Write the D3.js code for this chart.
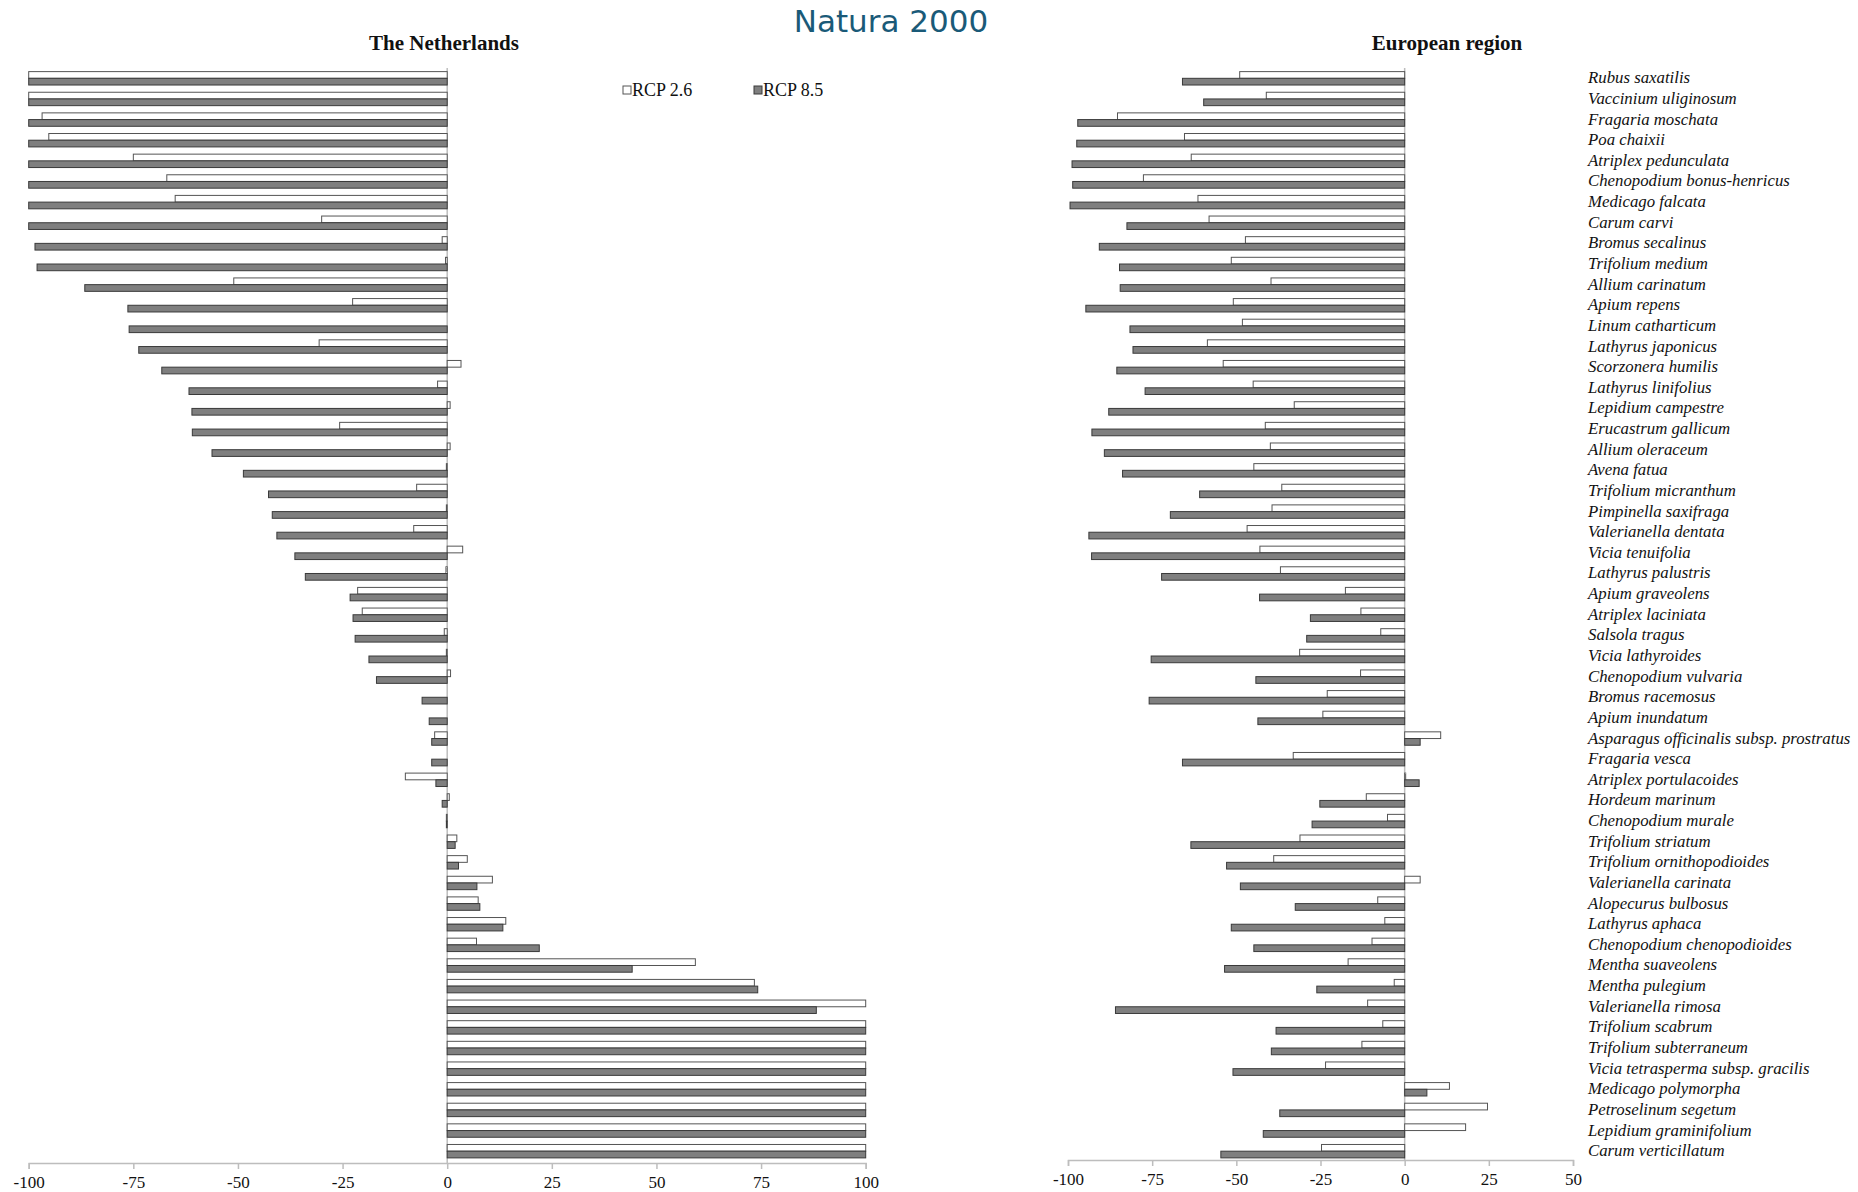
<!DOCTYPE html>
<html>
<head>
<meta charset="utf-8">
<script src="https://cdn.jsdelivr.net/npm/d3@7/dist/d3.min.js"></script>
<style>
  html, body { margin: 0; padding: 0; background: #fff; }
  svg { display: block; }
</style>
</head>
<body>
<svg id="chart" width="1858" height="1192"></svg>
<script>
const categories = [
  "Rubus saxatilis", "Vaccinium uliginosum", "Fragaria moschata", "Poa chaixii",
  "Atriplex pedunculata", "Chenopodium bonus-henricus", "Medicago falcata", "Carum carvi",
  "Bromus secalinus", "Trifolium medium", "Allium carinatum", "Apium repens",
  "Linum catharticum", "Lathyrus japonicus", "Scorzonera humilis", "Lathyrus linifolius",
  "Lepidium campestre", "Erucastrum gallicum", "Allium oleraceum", "Avena fatua",
  "Trifolium micranthum", "Pimpinella saxifraga", "Valerianella dentata", "Vicia tenuifolia",
  "Lathyrus palustris", "Apium graveolens", "Atriplex laciniata", "Salsola tragus",
  "Vicia lathyroides", "Chenopodium vulvaria", "Bromus racemosus", "Apium inundatum",
  "Asparagus officinalis subsp. prostratus", "Fragaria vesca", "Atriplex portulacoides",
  "Hordeum marinum", "Chenopodium murale", "Trifolium striatum", "Trifolium ornithopodioides",
  "Valerianella carinata", "Alopecurus bulbosus", "Lathyrus aphaca", "Chenopodium chenopodioides",
  "Mentha suaveolens", "Mentha pulegium", "Valerianella rimosa", "Trifolium scabrum",
  "Trifolium subterraneum", "Vicia tetrasperma subsp. gracilis", "Medicago polymorpha",
  "Petroselinum segetum", "Lepidium graminifolium", "Carum verticillatum"
];

const seriesNames = ["RCP 2.6", "RCP 8.5"];

// The Netherlands
const nlRcp26 = [-100, -100, -96.8, -95.2, -75, -67, -65, -30, -1.2, -0.4,
  -51, -22.6, 0, -30.6, 3.3, -2.3, 0.7, -25.7, 0.7, -0.2,
  -7.3, -0.2, -8, 3.7, -0.3, -21.4, -20.3, -0.7, -0.2, 0.8,
  0, 0, -3, 0, -10, 0.5, -0.2, 2.3, 4.8, 10.8,
  7.4, 14, 7, 59.3, 73.4, 100, 100, 100, 100, 100,
  100, 100, 100];
const nlRcp85 = [-100, -100, -100, -100, -100, -100, -100, -100, -98.5, -98,
  -86.6, -76.3, -76, -73.7, -68.2, -61.7, -61, -60.9, -56.2, -48.7,
  -42.7, -41.8, -40.7, -36.4, -33.9, -23.2, -22.5, -22, -18.7, -16.9,
  -6, -4.3, -3.7, -3.7, -2.7, -1.2, -0.2, 1.9, 2.7, 7.1,
  7.8, 13.3, 22, 44.2, 74.2, 88.2, 100, 100, 100, 100,
  100, 100, 100];

// European region
const euRcp26 = [-49, -41.1, -85.3, -65.4, -63.4, -77.6, -61.4, -58.1, -47.3, -51.5,
  -39.7, -50.9, -48.2, -58.6, -53.9, -45, -32.8, -41.4, -39.9, -44.8,
  -36.5, -39.4, -46.8, -43, -36.9, -17.6, -13, -7.1, -31.2, -13.1,
  -23, -24.3, 10.7, -33.1, 0.3, -11.4, -5.1, -31.1, -38.9, 4.6,
  -8, -5.9, -9.7, -16.8, -3.1, -11, -6.5, -12.7, -23.5, 13.3,
  24.6, 18.1, -24.7];
const euRcp85 = [-66, -59.7, -97.1, -97.4, -98.8, -98.6, -99.4, -82.5, -90.7, -84.7,
  -84.5, -94.7, -81.6, -80.7, -85.5, -77.1, -87.9, -92.9, -89.2, -83.8,
  -60.9, -69.6, -93.8, -93, -72.2, -43.1, -28, -29.1, -75.3, -44.2,
  -75.9, -43.6, 4.6, -66, 4.3, -25.2, -27.5, -63.5, -52.9, -48.8,
  -32.5, -51.5, -44.8, -53.5, -26.1, -85.9, -38.2, -39.6, -51, 6.6,
  -37.1, -42, -54.6];

const nlTicks = [-100, -75, -50, -25, 0, 25, 50, 75, 100];
const euTicks = [-100, -75, -50, -25, 0, 25, 50];

const mainTitle = "Natura 2000";
const nlTitle = "The Netherlands";
const euTitle = "European region";

const svg = d3.select("#chart");
const serif = "'Liberation Serif', 'Times New Roman', serif";

const y = d3.scaleBand().domain(categories).range([68, 1161.5]).paddingInner(0.35).paddingOuter(0.175);
const ySub = d3.scaleBand().domain(seriesNames).range([0, y.bandwidth()]);
const fills = { "RCP 2.6": "#ffffff", "RCP 8.5": "#7f7f7f" };
const strokes = { "RCP 2.6": "#555555", "RCP 8.5": "#3a3a3a" };

function panel(xScale, s26, s85, ticks, axisY, title, titleX) {
  const g = svg.append("g");
  const x0 = xScale(0);
  g.append("line").attr("x1", x0).attr("x2", x0)
    .attr("y1", y.range()[0]).attr("y2", axisY)
    .attr("stroke", "#bdbdbd").attr("stroke-width", 1.5);
  const rows = categories.map((c, i) => ({ c, v: [s26[i], s85[i]] }));
  rows.forEach(r => {
    seriesNames.forEach((s, k) => {
      const v = r.v[k];
      if (v === 0) return;
      g.append("rect")
        .attr("x", Math.min(xScale(v), x0))
        .attr("width", Math.abs(xScale(v) - x0))
        .attr("y", y(r.c) + ySub(s))
        .attr("height", ySub.bandwidth())
        .attr("fill", fills[s])
        .attr("stroke", strokes[s])
        .attr("stroke-width", 1);
    });
  });
  const ax = g.append("g").attr("transform", `translate(0,${axisY})`)
    .call(d3.axisBottom(xScale).tickValues(ticks).tickSize(6).tickFormat(d => String(d)));
  ax.select(".domain").attr("stroke", "#bdbdbd").attr("stroke-width", 1.5);
  ax.selectAll(".tick line").attr("stroke", "#bdbdbd").attr("stroke-width", 1.5);
  ax.selectAll(".tick text").attr("fill", "#111").attr("font-family", serif).attr("font-size", 17)
    .attr("y", 13).attr("dy", "0.71em");
  svg.append("text").attr("x", titleX)
    .attr("y", 50).attr("text-anchor", "middle")
    .attr("font-family", serif).attr("font-weight", "bold").attr("font-size", 21).attr("fill", "#111")
    .text(title);
  return g;
}

const xNl = d3.scaleLinear().domain([-100, 100]).range([28.7, 865.7]);
const xEu = d3.scaleLinear().domain([-100, 50]).range([1068, 1573]);

panel(xNl, nlRcp26, nlRcp85, nlTicks, 1163, nlTitle, 444);
panel(xEu, euRcp26, euRcp85, euTicks, 1160, euTitle, 1447);

// species labels
svg.append("g").selectAll("text").data(categories).join("text")
  .attr("x", 1588)
  .attr("y", d => y(d) + y.bandwidth() / 2 + 5)
  .attr("font-family", serif).attr("font-style", "italic").attr("font-size", 16.8).attr("fill", "#111")
  .text(d => d);

// main title
svg.append("text").attr("x", 891).attr("y", 32).attr("text-anchor", "middle")
  .attr("font-family", "'DejaVu Sans', Verdana, sans-serif").attr("font-size", 31).attr("fill", "#1a5a78")
  .text(mainTitle);

// legend
const legend = svg.append("g");
const legendX = [623, 754];
seriesNames.forEach((s, i) => {
  legend.append("rect").attr("x", legendX[i]).attr("y", 86).attr("width", 8).attr("height", 8)
    .attr("fill", fills[s]).attr("stroke", strokes[s]).attr("stroke-width", 1);
  legend.append("text").attr("x", legendX[i] + 9).attr("y", 96)
    .attr("font-family", serif).attr("font-size", 18).attr("fill", "#111").text(s);
});
</script>
</body>
</html>
